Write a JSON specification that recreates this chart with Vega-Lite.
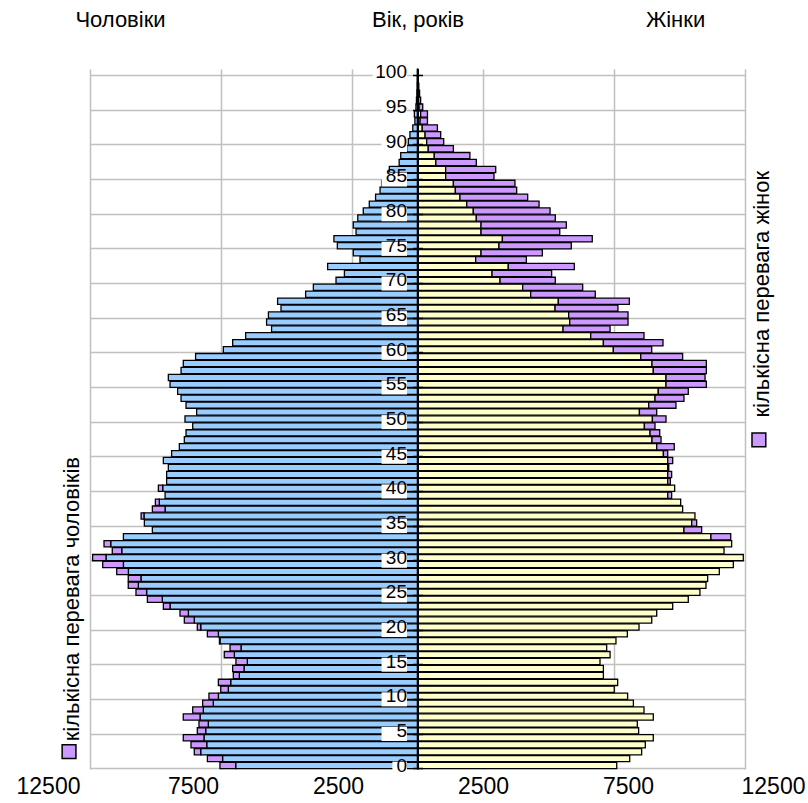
{
  "$schema": "https://vega.github.io/schema/vega-lite/v6.json",
  "width": 655,
  "height": 700,
  "autosize": "none",
  "padding": {"left": 90, "top": 69, "right": 63, "bottom": 34},
  "background": "white",
  "config": {"view": {"stroke": null}, "font": "Liberation Sans"},
  "datasets": {
    "pop": [
      {"age": 0, "m": -7540, "mb": -6940, "fy": 7605, "f": 7605},
      {"age": 1, "m": -8020, "mb": -7440, "fy": 8100, "f": 8100},
      {"age": 2, "m": -8520, "mb": -8275, "fy": 8555, "f": 8555},
      {"age": 3, "m": -8645, "mb": -8045, "fy": 8695, "f": 8695},
      {"age": 4, "m": -8940, "mb": -8150, "fy": 9000, "f": 9000},
      {"age": 5, "m": -8405, "mb": -8085, "fy": 8440, "f": 8440},
      {"age": 6, "m": -8340, "mb": -7985, "fy": 8390, "f": 8390},
      {"age": 7, "m": -8940, "mb": -8300, "fy": 9000, "f": 9000},
      {"age": 8, "m": -8580, "mb": -8175, "fy": 8645, "f": 8645},
      {"age": 9, "m": -8200, "mb": -7795, "fy": 8240, "f": 8240},
      {"age": 10, "m": -7960, "mb": -7600, "fy": 8020, "f": 8020},
      {"age": 11, "m": -7510, "mb": -7220, "fy": 7510, "f": 7510},
      {"age": 12, "m": -7600, "mb": -7130, "fy": 7640, "f": 7640},
      {"age": 13, "m": -7030, "mb": -6800, "fy": 7095, "f": 7095},
      {"age": 14, "m": -7055, "mb": -6620, "fy": 7095, "f": 7095},
      {"age": 15, "m": -6930, "mb": -6495, "fy": 6965, "f": 6965},
      {"age": 16, "m": -7375, "mb": -6990, "fy": 7350, "f": 7350},
      {"age": 17, "m": -7155, "mb": -6735, "fy": 7220, "f": 7220},
      {"age": 18, "m": -7560, "mb": -7540, "fy": 7575, "f": 7575},
      {"age": 19, "m": -8020, "mb": -7600, "fy": 8010, "f": 8010},
      {"age": 20, "m": -8405, "mb": -8275, "fy": 8455, "f": 8455},
      {"age": 21, "m": -8900, "mb": -8520, "fy": 8940, "f": 8940},
      {"age": 22, "m": -9065, "mb": -8745, "fy": 9130, "f": 9130},
      {"age": 23, "m": -9700, "mb": -9445, "fy": 9740, "f": 9740},
      {"age": 24, "m": -10310, "mb": -9740, "fy": 10335, "f": 10335},
      {"age": 25, "m": -10745, "mb": -10340, "fy": 10780, "f": 10780},
      {"age": 26, "m": -11040, "mb": -10655, "fy": 11010, "f": 11010},
      {"age": 27, "m": -11040, "mb": -10555, "fy": 11075, "f": 11075},
      {"age": 28, "m": -11480, "mb": -11035, "fy": 11520, "f": 11520},
      {"age": 29, "m": -12015, "mb": -11225, "fy": 12055, "f": 12055},
      {"age": 30, "m": -12400, "mb": -11890, "fy": 12435, "f": 12435},
      {"age": 31, "m": -11650, "mb": -11290, "fy": 11700, "f": 11700},
      {"age": 32, "m": -11965, "mb": -11710, "fy": 11990, "f": 11990},
      {"age": 33, "m": -11225, "mb": -11225, "fy": 11200, "f": 11955},
      {"age": 34, "m": -10120, "mb": -10120, "fy": 10170, "f": 10845},
      {"age": 35, "m": -10425, "mb": -10425, "fy": 10465, "f": 10655},
      {"age": 36, "m": -10550, "mb": -10440, "fy": 10590, "f": 10590},
      {"age": 37, "m": -10120, "mb": -9635, "fy": 10120, "f": 10120},
      {"age": 38, "m": -10005, "mb": -9855, "fy": 10045, "f": 10045},
      {"age": 39, "m": -9635, "mb": -9635, "fy": 9550, "f": 9700},
      {"age": 40, "m": -9890, "mb": -9725, "fy": 9815, "f": 9815},
      {"age": 41, "m": -9575, "mb": -9575, "fy": 9550, "f": 9650},
      {"age": 42, "m": -9575, "mb": -9575, "fy": 9550, "f": 9700},
      {"age": 43, "m": -9510, "mb": -9510, "fy": 9550, "f": 9590},
      {"age": 44, "m": -9700, "mb": -9700, "fy": 9550, "f": 9740},
      {"age": 45, "m": -9385, "mb": -9385, "fy": 9385, "f": 9550},
      {"age": 46, "m": -9090, "mb": -9090, "fy": 9130, "f": 9800},
      {"age": 47, "m": -8900, "mb": -8900, "fy": 8950, "f": 9295},
      {"age": 48, "m": -8835, "mb": -8835, "fy": 8875, "f": 9245},
      {"age": 49, "m": -8580, "mb": -8580, "fy": 8660, "f": 9065},
      {"age": 50, "m": -8875, "mb": -8875, "fy": 8965, "f": 9485},
      {"age": 51, "m": -8430, "mb": -8430, "fy": 8470, "f": 9130},
      {"age": 52, "m": -8835, "mb": -8835, "fy": 8825, "f": 9865},
      {"age": 53, "m": -9025, "mb": -9025, "fy": 9065, "f": 10170},
      {"age": 54, "m": -9155, "mb": -9155, "fy": 9190, "f": 10335},
      {"age": 55, "m": -9445, "mb": -9445, "fy": 9485, "f": 11025},
      {"age": 56, "m": -9510, "mb": -9510, "fy": 9485, "f": 10975},
      {"age": 57, "m": -9025, "mb": -9025, "fy": 9000, "f": 11025},
      {"age": 58, "m": -8940, "mb": -8940, "fy": 8950, "f": 11025},
      {"age": 59, "m": -8470, "mb": -8470, "fy": 8520, "f": 10120},
      {"age": 60, "m": -7410, "mb": -7410, "fy": 7475, "f": 8940},
      {"age": 61, "m": -7055, "mb": -7055, "fy": 7095, "f": 9370},
      {"age": 62, "m": -6560, "mb": -6560, "fy": 6610, "f": 8645},
      {"age": 63, "m": -5570, "mb": -5570, "fy": 5555, "f": 7350},
      {"age": 64, "m": -5760, "mb": -5760, "fy": 5810, "f": 8035},
      {"age": 65, "m": -5690, "mb": -5690, "fy": 5770, "f": 8035},
      {"age": 66, "m": -5210, "mb": -5210, "fy": 5250, "f": 7650},
      {"age": 67, "m": -5340, "mb": -5340, "fy": 5375, "f": 8085},
      {"age": 68, "m": -4270, "mb": -4270, "fy": 4320, "f": 6785},
      {"age": 69, "m": -3975, "mb": -3975, "fy": 4015, "f": 6305},
      {"age": 70, "m": -3110, "mb": -3110, "fy": 3150, "f": 5260},
      {"age": 71, "m": -2790, "mb": -2790, "fy": 2845, "f": 5120},
      {"age": 72, "m": -3430, "mb": -3430, "fy": 3465, "f": 5985},
      {"age": 73, "m": -2195, "mb": -2195, "fy": 2220, "f": 4155},
      {"age": 74, "m": -2450, "mb": -2450, "fy": 2425, "f": 4765},
      {"age": 75, "m": -3060, "mb": -3060, "fy": 3110, "f": 5870},
      {"age": 76, "m": -3190, "mb": -3190, "fy": 3240, "f": 6670},
      {"age": 77, "m": -2345, "mb": -2345, "fy": 2425, "f": 5430},
      {"age": 78, "m": -2450, "mb": -2450, "fy": 2425, "f": 5680},
      {"age": 79, "m": -2280, "mb": -2280, "fy": 2245, "f": 5260},
      {"age": 80, "m": -2070, "mb": -2070, "fy": 2130, "f": 5060},
      {"age": 81, "m": -1840, "mb": -1840, "fy": 1880, "f": 4640},
      {"age": 82, "m": -1600, "mb": -1600, "fy": 1620, "f": 4205},
      {"age": 83, "m": -1430, "mb": -1430, "fy": 1445, "f": 3785},
      {"age": 84, "m": -1370, "mb": -1370, "fy": 1370, "f": 3720},
      {"age": 85, "m": -1075, "mb": -1075, "fy": 1075, "f": 2920},
      {"age": 86, "m": -1075, "mb": -1075, "fy": 1075, "f": 2985},
      {"age": 87, "m": -700, "mb": -700, "fy": 700, "f": 2245},
      {"age": 88, "m": -640, "mb": -640, "fy": 640, "f": 2000},
      {"age": 89, "m": -410, "mb": -410, "fy": 410, "f": 1370},
      {"age": 90, "m": -350, "mb": -350, "fy": 350, "f": 1000},
      {"age": 91, "m": -290, "mb": -290, "fy": 290, "f": 885},
      {"age": 92, "m": -180, "mb": -180, "fy": 180, "f": 760},
      {"age": 93, "m": -100, "mb": -100, "fy": 100, "f": 380},
      {"age": 94, "m": -120, "mb": -120, "fy": 120, "f": 380},
      {"age": 95, "m": -60, "mb": -60, "fy": 60, "f": 200},
      {"age": 96, "m": -40, "mb": -40, "fy": 40, "f": 120},
      {"age": 97, "m": -25, "mb": -25, "fy": 25, "f": 80},
      {"age": 98, "m": -15, "mb": -15, "fy": 15, "f": 50},
      {"age": 99, "m": -10, "mb": -10, "fy": 10, "f": 30},
      {"age": 100, "m": -5, "mb": -5, "fy": 5, "f": 20}
    ]
  },
  "resolve": {"axis": {"x": "independent", "y": "independent"}},
  "layer": [
    {
      "data": {"name": "pop"},
      "mark": {"type": "bar", "fill": "#99CCFF", "stroke": "black", "strokeWidth": 1.3},
      "encoding": {
        "x": {"field": "mb", "type": "quantitative",
          "scale": {"domain": [-12500, 12500], "nice": false, "zero": false},
          "axis": {"orient": "bottom", "values": [-12500, -7500, -2500, 2500, 7500, 12500],
            "labelExpr": "abs(datum.value) + ''", "grid": true, "gridColor": "#c0c0c0", "gridWidth": 1.5,
            "domain": false, "ticks": false, "labelFontSize": 23, "labelColor": "black",
            "labelPadding": 6, "labelFlush": false, "labelOverlap": false, "labelBound": false,
            "labelOffset": {"expr": "datum.value*0.0028-7"}, "title": null}},
        "x2": {"datum": 0},
        "y": {"field": "age", "type": "ordinal",
          "scale": {"domain": [100,99,98,97,96,95,94,93,92,91,90,89,88,87,86,85,84,83,82,81,80,79,78,77,76,75,74,73,72,71,70,69,68,67,66,65,64,63,62,61,60,59,58,57,56,55,54,53,52,51,50,49,48,47,46,45,44,43,42,41,40,39,38,37,36,35,34,33,32,31,30,29,28,27,26,25,24,23,22,21,20,19,18,17,16,15,14,13,12,11,10,9,8,7,6,5,4,3,2,1,0],
            "paddingInner": 0.1, "paddingOuter": 0.05},
          "axis": {"orient": "left", "offset": -327.5, "values": [0,5,10,15,20,25,30,35,40,45,50,55,60,65,70,75,80,85,90,95,100],
            "bandPosition": 1, "grid": false, "domain": true, "domainColor": "black", "domainWidth": 2,
            "ticks": true, "tickSize": 5, "tickColor": "black", "tickWidth": 1.5,
            "labelFontSize": 19, "labelColor": "black", "labelPadding": 6, "labelOverlap": false,
            "labelAngle": 0, "title": null, "zindex": 2}}
      }
    },
    {
      "data": {"name": "pop"},
      "transform": [{"filter": "datum.m < datum.mb"}],
      "mark": {"type": "bar", "fill": "#CC99FF", "stroke": "black", "strokeWidth": 1.3},
      "encoding": {
        "x": {"field": "m", "type": "quantitative", "axis": null},
        "x2": {"field": "mb"},
        "y": {"field": "age", "type": "ordinal", "axis": null}
      }
    },
    {
      "data": {"name": "pop"},
      "mark": {"type": "bar", "fill": "#FFFFCC", "stroke": "black", "strokeWidth": 1.3},
      "encoding": {
        "x": {"field": "fy", "type": "quantitative",
          "axis": {"orient": "top", "values": [-11355, 0, 9830],
            "labelExpr": "datum.value < -5000 ? 'Чоловіки' : (datum.value > 5000 ? 'Жінки' : 'Вік, років')",
            "grid": false, "domain": false, "ticks": false, "labelFontSize": 22, "labelColor": "black",
            "labelPadding": 38, "labelFlush": false, "labelOverlap": false, "labelBound": false, "title": null}},
        "x2": {"datum": 0},
        "y": {"field": "age", "type": "ordinal",
          "axis": {"orient": "left", "values": [0,5,10,15,20,25,30,35,40,45,50,55,60,65,70,75,80,85,90,95,100],
            "bandPosition": 1, "grid": true, "gridColor": "#c0c0c0", "gridWidth": 1.5,
            "domain": false, "ticks": false, "labels": false, "title": null}}
      }
    },
    {
      "data": {"name": "pop"},
      "transform": [{"filter": "datum.f > datum.fy"}],
      "mark": {"type": "bar", "fill": "#CC99FF", "stroke": "black", "strokeWidth": 1.3},
      "encoding": {
        "x": {"field": "f", "type": "quantitative", "axis": null},
        "x2": {"field": "fy"},
        "y": {"field": "age", "type": "ordinal", "axis": null}
      }
    },
    {
      "data": {"name": "pop"},
      "transform": [{"filter": "datum.age % 5 == 0"}],
      "mark": {"type": "point", "filled": true, "fill": "white", "opacity": 1, "strokeWidth": 0, "size": 650},
      "encoding": {
        "x": {"datum": -400, "type": "quantitative", "axis": null},
        "y": {"field": "age", "type": "ordinal", "bandPosition": 1,
          "axis": {"orient": "right", "offset": -327.5, "values": [0,5,10,15,20,25,30,35,40,45,50,55,60,65,70,75,80,85,90,95,100],
            "bandPosition": 1, "grid": false, "domain": false, "labels": false,
            "ticks": true, "tickSize": 5, "tickColor": "black", "tickWidth": 1.5, "title": null, "zindex": 2}},
        "shape": {"condition": [
            {"test": "datum.age == 100", "value": "M-2.7,-0.55L0,-0.55L0,0.55L-2.7,0.55Z"},
            {"test": "datum.age == 0", "value": "M-1.15,-0.55L0,-0.55L0,0.55L-1.15,0.55Z"}],
          "value": "M-2,-0.55L0,-0.55L0,0.55L-2,0.55Z"}
      }
    },
    {
      "data": {"values": [{}]},
      "mark": {"type": "text", "angle": 270, "align": "center", "baseline": "middle", "fontSize": 22, "color": "black"},
      "encoding": {
        "x": {"datum": 13150, "type": "quantitative", "axis": null},
        "y": {"datum": 68, "type": "ordinal", "axis": null},
        "text": {"value": "кількісна перевага жінок"}
      }
    },
    {
      "data": {"values": [{}]},
      "mark": {"type": "text", "angle": 270, "align": "center", "baseline": "middle", "fontSize": 22, "color": "black"},
      "encoding": {
        "x": {"datum": -13187, "type": "quantitative", "axis": null},
        "y": {"datum": 24, "type": "ordinal", "axis": null},
        "text": {"value": "кількісна перевага чоловіків"}
      }
    },
    {
      "data": {"values": [{}]},
      "mark": {"type": "point", "shape": "square", "filled": true, "fill": "#CC99FF", "stroke": "black", "strokeWidth": 1.5, "opacity": 1, "size": 190},
      "encoding": {
        "x": {"datum": 13030, "type": "quantitative", "axis": null},
        "y": {"datum": 47, "type": "ordinal", "axis": null}
      }
    },
    {
      "data": {"values": [{}]},
      "mark": {"type": "point", "shape": "square", "filled": true, "fill": "#CC99FF", "stroke": "black", "strokeWidth": 1.5, "opacity": 1, "size": 190},
      "encoding": {
        "x": {"datum": -13300, "type": "quantitative", "axis": null},
        "y": {"datum": 2, "type": "ordinal", "axis": null}
      }
    }
  ]
}
